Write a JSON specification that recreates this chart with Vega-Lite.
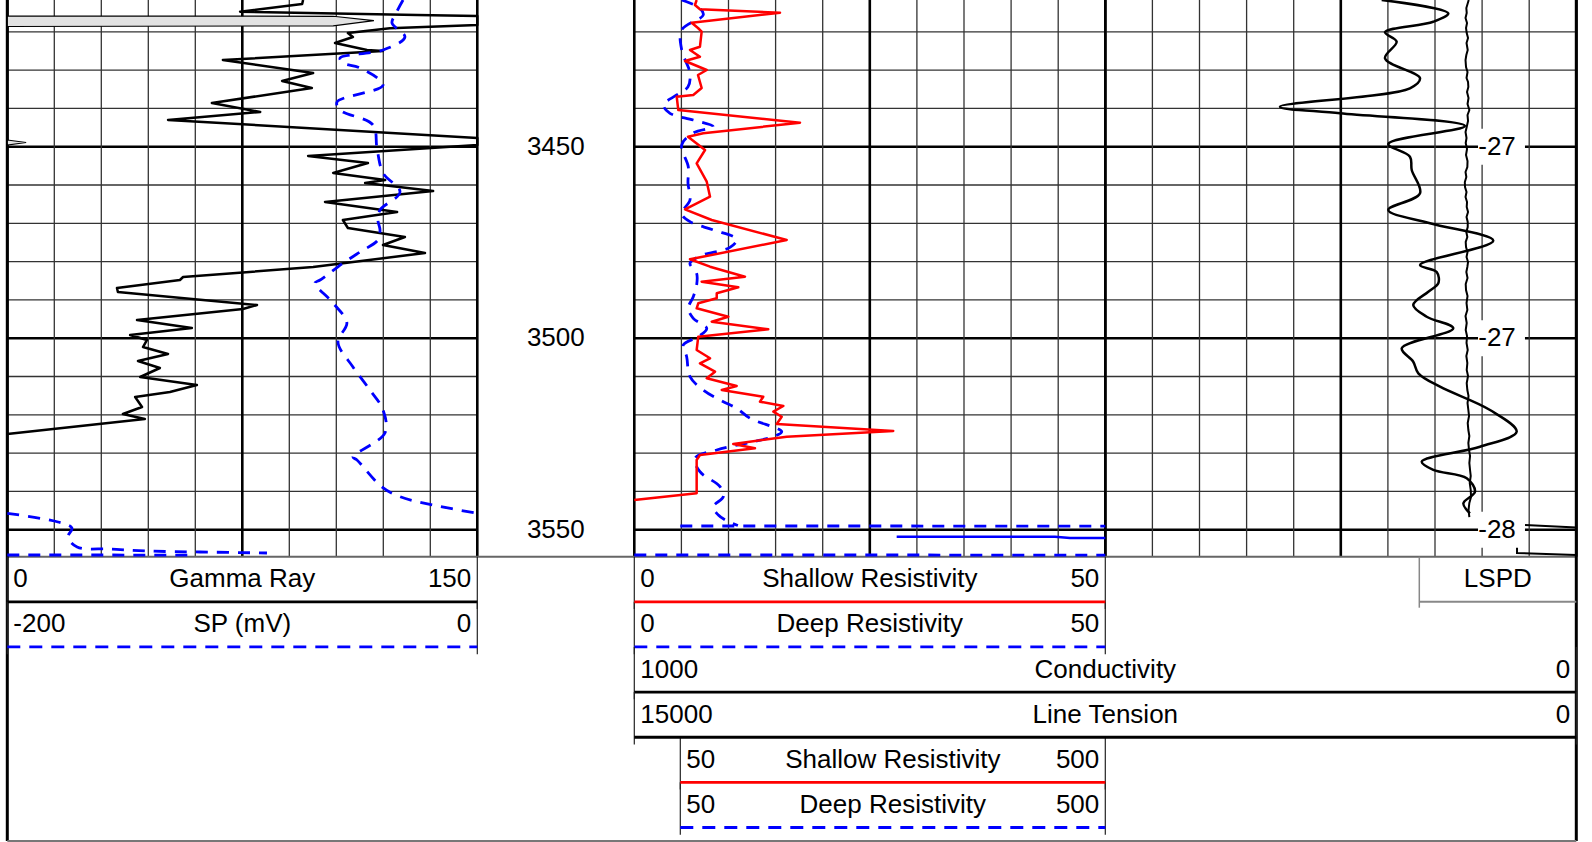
{
"$schema":"https://vega.github.io/schema/vega-lite/v6.json",
"width":1569,"height":841,
"padding":{"left":7.3,"top":0,"right":15.7,"bottom":1},
"autosize":{"type":"none"},
"background":"white",
"config":{"view":{"stroke":null},"text":{"font":"Liberation Sans","fontSize":26,"color":"black"}},
"datasets":{
"hgrid":[{"d":3420},{"d":3430},{"d":3440},{"d":3450},{"d":3460},{"d":3470},{"d":3480},{"d":3490},{"d":3500},{"d":3510},{"d":3520},{"d":3530},{"d":3540},{"d":3550}],
"vgrid":[{"div":0},{"div":1},{"div":2},{"div":3},{"div":4},{"div":5},{"div":6},{"div":7},{"div":8},{"div":9},{"div":10}],
"gr":[{"d":3411.70,"v":94.4},{"d":3412.74,"v":94.1},{"d":3414.75,"v":74.3},{"d":3415.62,"v":130.8},{"d":3415.88,"v":150},{"d":3418.23,"v":150},{"d":3419.09,"v":122.1},{"d":3420.32,"v":108.7},{"d":3421.36,"v":110.3},{"d":3422.93,"v":104.6},{"d":3424.75,"v":114.8},{"d":3425.02,"v":119.9},{"d":3427.37,"v":68.8},{"d":3430.76,"v":97.6},{"d":3432.85,"v":87.7},{"d":3434.68,"v":97.2},{"d":3438.59,"v":65.3},{"d":3440.94,"v":80.7},{"d":3443.03,"v":51.3},{"d":3447.73,"v":150},{"d":3449.56,"v":150},{"d":3452.43,"v":96.0},{"d":3454.26,"v":115.1},{"d":3456.87,"v":104.0},{"d":3458.70,"v":120.6},{"d":3459.48,"v":114.2},{"d":3461.57,"v":135.9},{"d":3464.44,"v":101.4},{"d":3467.05,"v":124.4},{"d":3469.14,"v":107.1},{"d":3471.23,"v":108.7},{"d":3473.58,"v":126.9},{"d":3475.67,"v":119.9},{"d":3477.76,"v":133.3},{"d":3481.41,"v":97.6},{"d":3484.02,"v":56.1},{"d":3484.81,"v":55.1},{"d":3486.90,"v":35.0},{"d":3487.94,"v":35.3},{"d":3491.33,"v":79.7},{"d":3492.38,"v":75.2},{"d":3495.25,"v":41.4},{"d":3497.34,"v":58.9},{"d":3499.17,"v":39.2},{"d":3500.47,"v":44.6},{"d":3502.30,"v":43.3},{"d":3504.13,"v":51.3},{"d":3505.96,"v":41.7},{"d":3507.78,"v":48.7},{"d":3510.13,"v":42.4},{"d":3512.22,"v":60.5},{"d":3514.05,"v":51.9},{"d":3515.35,"v":40.8},{"d":3517.96,"v":43.0},{"d":3519.79,"v":36.9},{"d":3521.10,"v":43.9},{"d":3525.01,"v":0}],
"grwrap":[{"d":3415.88,"v":0,"seg":"a"},{"d":3415.95,"v":104,"seg":"a"},{"d":3417.10,"v":117,"seg":"a"},{"d":3418.45,"v":104,"seg":"a"},{"d":3418.62,"v":0,"seg":"a"},{"d":3448.25,"v":0,"seg":"b"},{"d":3448.90,"v":6,"seg":"b"},{"d":3449.56,"v":0,"seg":"b"}],
"sp":[{"d":3411.70,"v":-31.6,"seg":"m"},{"d":3415.62,"v":-35.0,"seg":"m"},{"d":3417.71,"v":-36.3,"seg":"m"},{"d":3421.36,"v":-30.8,"seg":"m"},{"d":3424.75,"v":-40.1,"seg":"m"},{"d":3426.84,"v":-58.4,"seg":"m"},{"d":3428.15,"v":-57.1,"seg":"m"},{"d":3429.45,"v":-49.9,"seg":"m"},{"d":3433.89,"v":-40.1,"seg":"m"},{"d":3438.33,"v":-59.7,"seg":"m"},{"d":3440.42,"v":-58.4,"seg":"m"},{"d":3444.34,"v":-44.4,"seg":"m"},{"d":3450.34,"v":-42.7,"seg":"m"},{"d":3456.87,"v":-40.1,"seg":"m"},{"d":3461.83,"v":-32.9,"seg":"m"},{"d":3466.53,"v":-41.4,"seg":"m"},{"d":3469.14,"v":-42.3,"seg":"m"},{"d":3471.75,"v":-41.4,"seg":"m"},{"d":3474.36,"v":-42.3,"seg":"m"},{"d":3477.49,"v":-49.9,"seg":"m"},{"d":3480.37,"v":-57.1,"seg":"m"},{"d":3484.81,"v":-66.9,"seg":"m"},{"d":3485.59,"v":-69.1,"seg":"m"},{"d":3490.81,"v":-61.4,"seg":"m"},{"d":3496.03,"v":-55.5,"seg":"m"},{"d":3500.99,"v":-59.3,"seg":"m"},{"d":3507.52,"v":-52.9,"seg":"m"},{"d":3513.53,"v":-45.7,"seg":"m"},{"d":3518.75,"v":-40.1,"seg":"m"},{"d":3524.75,"v":-39.3,"seg":"m"},{"d":3531.02,"v":-52.9,"seg":"m"},{"d":3531.80,"v":-51.2,"seg":"m"},{"d":3538.77,"v":-40.7,"seg":"m"},{"d":3541.38,"v":-32.9,"seg":"m"},{"d":3543.55,"v":-18.9,"seg":"m"},{"d":3545.72,"v":0,"seg":"m"},
{"d":3545.72,"v":-200,"seg":"w"},{"d":3547.99,"v":-178.4,"seg":"w"},{"d":3549.56,"v":-172.5,"seg":"w"},{"d":3551.91,"v":-174.2,"seg":"w"},{"d":3554.52,"v":-170.3,"seg":"w"},{"d":3555.04,"v":-156.3,"seg":"w"},{"d":3555.56,"v":-140.6,"seg":"w"},{"d":3555.82,"v":-118.0,"seg":"w"},{"d":3556.08,"v":-89.5,"seg":"w"},
{"d":3556.60,"v":-200,"seg":"b"},{"d":3556.62,"v":-122.3,"seg":"b"}],
"sres":[{"d":3411.70,"v":6.62},{"d":3413.01,"v":6.44},{"d":3414.13,"v":6.97},{"d":3415.02,"v":15.47},{"d":3417.63,"v":6.09},{"d":3419.01,"v":6.76},{"d":3419.98,"v":7.15},{"d":3423.89,"v":6.97},{"d":3424.75,"v":5.91},{"d":3426.50,"v":6.97},{"d":3427.63,"v":5.38},{"d":3429.98,"v":7.69},{"d":3431.28,"v":6.76},{"d":3434.68,"v":7.15},{"d":3436.50,"v":6.26},{"d":3436.95,"v":4.50},{"d":3440.42,"v":4.67},{"d":3443.74,"v":17.59},{"d":3446.50,"v":7.32},{"d":3447.39,"v":5.70},{"d":3450.86,"v":7.51},{"d":3454.34,"v":6.62},{"d":3459.14,"v":7.69},{"d":3463.06,"v":8.04},{"d":3466.35,"v":5.38},{"d":3469.14,"v":8.22},{"d":3474.36,"v":16.18},{"d":3479.40,"v":5.91},{"d":3481.33,"v":8.04},{"d":3483.94,"v":11.75},{"d":3485.25,"v":7.15},{"d":3486.71,"v":11.04},{"d":3488.28,"v":8.75},{"d":3489.58,"v":8.75},{"d":3490.89,"v":6.79},{"d":3492.19,"v":6.62},{"d":3494.39,"v":9.98},{"d":3495.69,"v":8.22},{"d":3497.68,"v":14.22},{"d":3499.61,"v":6.79},{"d":3503.08,"v":6.62},{"d":3505.25,"v":8.04},{"d":3506.56,"v":6.97},{"d":3508.75,"v":8.57},{"d":3510.47,"v":7.69},{"d":3512.48,"v":10.87},{"d":3513.53,"v":9.28},{"d":3515.28,"v":13.69},{"d":3516.58,"v":13.34},{"d":3517.70,"v":15.82},{"d":3519.19,"v":14.76},{"d":3520.50,"v":15.65},{"d":3522.40,"v":15.12},{"d":3524.23,"v":27.49},{"d":3525.72,"v":16.18},{"d":3527.62,"v":10.51},{"d":3528.75,"v":12.81},{"d":3530.50,"v":6.97},{"d":3531.80,"v":6.62},{"d":3540.50,"v":6.62},{"d":3542.25,"v":0}],
"dres":[{"d":3411.70,"v":5.03,"seg":"m"},{"d":3413.87,"v":6.97,"seg":"m"},{"d":3415.62,"v":7.32,"seg":"m"},{"d":3419.53,"v":5.03,"seg":"m"},{"d":3424.75,"v":5.03,"seg":"m"},{"d":3430.84,"v":5.91,"seg":"m"},{"d":3434.34,"v":5.70,"seg":"m"},{"d":3436.50,"v":4.50,"seg":"m"},{"d":3439.11,"v":3.08,"seg":"m"},{"d":3441.28,"v":3.79,"seg":"m"},{"d":3443.03,"v":6.26,"seg":"m"},{"d":3444.78,"v":8.39,"seg":"m"},{"d":3446.43,"v":6.26,"seg":"m"},{"d":3449.56,"v":5.03,"seg":"m"},{"d":3455.22,"v":5.73,"seg":"m"},{"d":3459.56,"v":5.70,"seg":"m"},{"d":3463.92,"v":5.91,"seg":"m"},{"d":3467.39,"v":5.03,"seg":"m"},{"d":3469.58,"v":5.91,"seg":"m"},{"d":3471.75,"v":8.39,"seg":"m"},{"d":3474.18,"v":10.87,"seg":"m"},{"d":3476.27,"v":10.16,"seg":"m"},{"d":3478.54,"v":6.97,"seg":"m"},{"d":3480.45,"v":5.91,"seg":"m"},{"d":3483.06,"v":6.62,"seg":"m"},{"d":3486.11,"v":6.62,"seg":"m"},{"d":3489.17,"v":6.26,"seg":"m"},{"d":3492.19,"v":5.73,"seg":"m"},{"d":3494.81,"v":6.26,"seg":"m"},{"d":3497.42,"v":7.69,"seg":"m"},{"d":3499.61,"v":6.79,"seg":"m"},{"d":3501.78,"v":5.20,"seg":"m"},{"d":3504.83,"v":5.56,"seg":"m"},{"d":3510.05,"v":5.91,"seg":"m"},{"d":3513.53,"v":7.32,"seg":"m"},{"d":3516.58,"v":9.45,"seg":"m"},{"d":3518.30,"v":10.87,"seg":"m"},{"d":3520.91,"v":12.28,"seg":"m"},{"d":3524.41,"v":15.65,"seg":"m"},{"d":3525.72,"v":14.76,"seg":"m"},{"d":3527.02,"v":12.63,"seg":"m"},{"d":3529.19,"v":8.75,"seg":"m"},{"d":3531.36,"v":6.44,"seg":"m"},{"d":3534.86,"v":6.97,"seg":"m"},{"d":3538.77,"v":9.10,"seg":"m"},{"d":3541.38,"v":9.45,"seg":"m"},{"d":3543.99,"v":8.39,"seg":"m"},{"d":3546.16,"v":8.92,"seg":"m"},{"d":3547.91,"v":9.98,"seg":"m"},{"d":3548.90,"v":11.0,"seg":"m"},
{"d":3556.60,"v":0,"seg":"b"},{"d":3556.62,"v":50,"seg":"b"}],
"resbdash":[{"d":3549.03,"v":50},{"d":3549.05,"v":500}],
"resbsolid":[{"d":3551.83,"v":279.1},{"d":3551.85,"v":446.7},{"d":3552.17,"v":462.6},{"d":3552.19,"v":500}],
"cond":[{"d":3411.70,"v":206.6},{"d":3415.17,"v":135.9},{"d":3417.37,"v":151.8},{"d":3420.13,"v":203.1},{"d":3422.59,"v":190.7},{"d":3426.92,"v":203.1},{"d":3432.14,"v":165.9},{"d":3434.75,"v":176.6},{"d":3439.56,"v":314.6},{"d":3441.28,"v":250.9},{"d":3444.60,"v":118.2},{"d":3449.30,"v":199.6},{"d":3452.61,"v":176.6},{"d":3456.09,"v":174.7},{"d":3462.17,"v":165.9},{"d":3466.53,"v":199.6},{"d":3470.00,"v":155.3},{"d":3474.54,"v":88.1},{"d":3480.89,"v":165.9},{"d":3482.72,"v":148.2},{"d":3485.67,"v":146.5},{"d":3487.86,"v":157.1},{"d":3491.33,"v":173.1},{"d":3494.39,"v":158.8},{"d":3497.42,"v":130.6},{"d":3502.64,"v":185.3},{"d":3506.14,"v":173.1},{"d":3509.17,"v":167.7},{"d":3512.66,"v":144.7},{"d":3518.75,"v":91.6},{"d":3524.41,"v":63.3},{"d":3528.33,"v":102.2},{"d":3532.25,"v":164.1},{"d":3534.41,"v":151.8},{"d":3536.58,"v":116.3},{"d":3540.08,"v":107.5},{"d":3543.11,"v":119.9},{"d":3545.72,"v":112.9}],
"lt":[{"d":3411.70,"v":1713,"seg":"m"},{"d":3412.74,"v":1732,"seg":"m"},{"d":3413.79,"v":1751,"seg":"m"},{"d":3415.09,"v":1745,"seg":"m"},{"d":3416.40,"v":1764,"seg":"m"},{"d":3417.71,"v":1740,"seg":"m"},{"d":3419.01,"v":1756,"seg":"m"},{"d":3420.32,"v":1745,"seg":"m"},{"d":3421.62,"v":1724,"seg":"m"},{"d":3422.93,"v":1748,"seg":"m"},{"d":3424.75,"v":1729,"seg":"m"},{"d":3426.06,"v":1751,"seg":"m"},{"d":3427.37,"v":1764,"seg":"m"},{"d":3429.19,"v":1756,"seg":"m"},{"d":3430.50,"v":1732,"seg":"m"},{"d":3432.07,"v":1748,"seg":"m"},{"d":3433.11,"v":1724,"seg":"m"},{"d":3434.41,"v":1719,"seg":"m"},{"d":3435.72,"v":1740,"seg":"m"},{"d":3437.29,"v":1716,"seg":"m"},{"d":3438.85,"v":1732,"seg":"m"},{"d":3440.42,"v":1703,"seg":"m"},{"d":3441.73,"v":1732,"seg":"m"},{"d":3443.29,"v":1724,"seg":"m"},{"d":3444.86,"v":1745,"seg":"m"},{"d":3446.16,"v":1764,"seg":"m"},{"d":3447.73,"v":1748,"seg":"m"},{"d":3449.04,"v":1761,"seg":"m"},{"d":3450.60,"v":1740,"seg":"m"},{"d":3452.17,"v":1756,"seg":"m"},{"d":3453.74,"v":1732,"seg":"m"},{"d":3455.30,"v":1735,"seg":"m"},{"d":3456.61,"v":1764,"seg":"m"},{"d":3457.91,"v":1751,"seg":"m"},{"d":3459.22,"v":1775,"seg":"m"},{"d":3460.52,"v":1772,"seg":"m"},{"d":3461.83,"v":1748,"seg":"m"},{"d":3463.13,"v":1764,"seg":"m"},{"d":3464.44,"v":1740,"seg":"m"},{"d":3465.75,"v":1745,"seg":"m"},{"d":3467.05,"v":1724,"seg":"m"},{"d":3468.36,"v":1748,"seg":"m"},{"d":3469.66,"v":1729,"seg":"m"},{"d":3470.97,"v":1729,"seg":"m"},{"d":3472.27,"v":1751,"seg":"m"},{"d":3473.58,"v":1735,"seg":"m"},{"d":3474.88,"v":1761,"seg":"m"},{"d":3476.19,"v":1756,"seg":"m"},{"d":3477.49,"v":1732,"seg":"m"},{"d":3478.80,"v":1748,"seg":"m"},{"d":3480.11,"v":1724,"seg":"m"},{"d":3481.41,"v":1735,"seg":"m"},{"d":3482.72,"v":1751,"seg":"m"},{"d":3484.28,"v":1732,"seg":"m"},{"d":3485.85,"v":1761,"seg":"m"},{"d":3487.42,"v":1756,"seg":"m"},{"d":3488.98,"v":1732,"seg":"m"},{"d":3490.81,"v":1748,"seg":"m"},{"d":3492.64,"v":1735,"seg":"m"},{"d":3494.20,"v":1764,"seg":"m"},{"d":3496.03,"v":1745,"seg":"m"},{"d":3497.86,"v":1761,"seg":"m"},{"d":3499.43,"v":1740,"seg":"m"},{"d":3501.25,"v":1748,"seg":"m"},{"d":3503.08,"v":1729,"seg":"m"},{"d":3504.65,"v":1751,"seg":"m"},{"d":3506.48,"v":1735,"seg":"m"},{"d":3508.30,"v":1745,"seg":"m"},{"d":3509.87,"v":1724,"seg":"m"},{"d":3511.70,"v":1745,"seg":"m"},{"d":3513.53,"v":1735,"seg":"m"},{"d":3515.09,"v":1716,"seg":"m"},{"d":3516.92,"v":1732,"seg":"m"},{"d":3518.75,"v":1719,"seg":"m"},{"d":3520.31,"v":1708,"seg":"m"},{"d":3522.14,"v":1729,"seg":"m"},{"d":3523.97,"v":1719,"seg":"m"},{"d":3525.54,"v":1703,"seg":"m"},{"d":3527.36,"v":1719,"seg":"m"},{"d":3529.19,"v":1708,"seg":"m"},{"d":3530.76,"v":1692,"seg":"m"},{"d":3532.59,"v":1703,"seg":"m"},{"d":3534.41,"v":1692,"seg":"m"},{"d":3535.98,"v":1681,"seg":"m"},{"d":3537.81,"v":1697,"seg":"m"},{"d":3539.63,"v":1681,"seg":"m"},{"d":3541.46,"v":1676,"seg":"m"},{"d":3543.03,"v":1703,"seg":"m"},{"d":3544.86,"v":1716,"seg":"m"},{"d":3546.70,"v":1703,"seg":"m"},
{"d":3548.77,"v":817,"seg":"b"},{"d":3549.43,"v":0,"seg":"b"},
{"d":3553.99,"v":944,"seg":"c"},{"d":3556.08,"v":944,"seg":"c"},{"d":3556.60,"v":0,"seg":"c"}],
"depthlab":[{"d":3450},{"d":3500},{"d":3550}],
"lspd":[{"d":3450,"lspd":-27},{"d":3500,"lspd":-27},{"d":3550,"lspd":-28}],
"header":[
{"scale":"GR","curve":"Gamma Ray","row":0,"lo":0,"hi":150},
{"scale":"SP","curve":"SP (mV)","row":1,"lo":-200,"hi":0},
{"scale":"RES","curve":"Shallow Resistivity","row":0,"lo":0,"hi":50},
{"scale":"RES","curve":"Deep Resistivity","row":1,"lo":0,"hi":50},
{"scale":"COND","curve":"Conductivity","row":2,"lo":1000,"hi":0},
{"scale":"LT","curve":"Line Tension","row":3,"lo":15000,"hi":0},
{"scale":"RESB","curve":"Shallow Resistivity","row":4,"lo":50,"hi":500},
{"scale":"RESB","curve":"Deep Resistivity","row":5,"lo":50,"hi":500},
{"scale":"LSPD","curve":"LSPD","row":0,"lo":0,"hi":1}]
},
"resolve":{"scale":{"x":"independent","y":"independent"}},
"layer":[
{"encoding":{"x":{"field":"gx","type":"quantitative","scale":{"domain":[0,10],"range":[0,470],"nice":false,"zero":false},"axis":null},"y":{"field":"gy","type":"quantitative","scale":{"domain":[3411.7,3557.05],"range":[0,556.7],"nice":false,"zero":false},"axis":null}},
 "layer":[
  {"data":{"name":"hgrid"},"transform":[{"calculate":"0","as":"gx"},{"calculate":"10","as":"gx2"},{"calculate":"datum.d","as":"gy"}],"mark":{"type":"rule"},"encoding":{"x2":{"field":"gx2"},"color":{"condition":{"test":"datum.d % 50 === 0","value":"#000000"},"value":"#333333"},"strokeWidth":{"condition":{"test":"datum.d % 50 === 0","value":2.6},"value":1.3}}},
  {"data":{"name":"vgrid"},"transform":[{"calculate":"datum.div","as":"gx"},{"calculate":"3411.7","as":"gy"},{"calculate":"3557.05","as":"gy2"}],"mark":{"type":"rule"},"encoding":{"y2":{"field":"gy2"},"color":{"condition":{"test":"datum.div % 5 === 0","value":"#000000"},"value":"#333333"},"strokeWidth":{"condition":{"test":"datum.div % 5 === 0","value":2.6},"value":1.3}}}
 ]},
{"encoding":{"x":{"field":"gx","type":"quantitative","scale":{"domain":[0,10],"range":[627,1098],"nice":false,"zero":false},"axis":null},"y":{"field":"gy","type":"quantitative","scale":{"domain":[3411.7,3557.05],"range":[0,556.7],"nice":false,"zero":false},"axis":null}},
 "layer":[
  {"data":{"name":"hgrid"},"transform":[{"calculate":"0","as":"gx"},{"calculate":"10","as":"gx2"},{"calculate":"datum.d","as":"gy"}],"mark":{"type":"rule"},"encoding":{"x2":{"field":"gx2"},"color":{"condition":{"test":"datum.d % 50 === 0","value":"#000000"},"value":"#333333"},"strokeWidth":{"condition":{"test":"datum.d % 50 === 0","value":2.6},"value":1.3}}},
  {"data":{"name":"vgrid"},"transform":[{"calculate":"datum.div","as":"gx"},{"calculate":"3411.7","as":"gy"},{"calculate":"3557.05","as":"gy2"}],"mark":{"type":"rule"},"encoding":{"y2":{"field":"gy2"},"color":{"condition":{"test":"datum.div % 5 === 0","value":"#000000"},"value":"#333333"},"strokeWidth":{"condition":{"test":"datum.div % 5 === 0","value":2.6},"value":1.3}}}
 ]},
{"encoding":{"x":{"field":"gx","type":"quantitative","scale":{"domain":[0,10],"range":[1098,1569],"nice":false,"zero":false},"axis":null},"y":{"field":"gy","type":"quantitative","scale":{"domain":[3411.7,3557.05],"range":[0,556.7],"nice":false,"zero":false},"axis":null}},
 "layer":[
  {"data":{"name":"hgrid"},"transform":[{"calculate":"0","as":"gx"},{"calculate":"10","as":"gx2"},{"calculate":"datum.d","as":"gy"}],"mark":{"type":"rule"},"encoding":{"x2":{"field":"gx2"},"color":{"condition":{"test":"datum.d % 50 === 0","value":"#000000"},"value":"#333333"},"strokeWidth":{"condition":{"test":"datum.d % 50 === 0","value":2.6},"value":1.3}}},
  {"data":{"name":"vgrid"},"transform":[{"calculate":"datum.div","as":"gx"},{"calculate":"3411.7","as":"gy"},{"calculate":"3557.05","as":"gy2"}],"mark":{"type":"rule"},"encoding":{"y2":{"field":"gy2"},"color":{"condition":{"test":"datum.div % 5 === 0","value":"#000000"},"value":"#333333"},"strokeWidth":{"condition":{"test":"datum.div % 5 === 0","value":2.6},"value":1.3}}}
 ]},
{"data":{"values":[{"d":3557.05}]},"mark":{"type":"rule","color":"#666666","strokeWidth":2},"encoding":{"x":{"value":0},"x2":{"value":"width"},"y":{"field":"d","type":"quantitative","scale":{"domain":[3411.7,3557.05],"range":[0,556.7],"nice":false,"zero":false},"axis":null}}},
{"data":{"values":[{}]},"mark":{"type":"rule","color":"#000000","strokeWidth":3},"encoding":{"x":{"value":0},"y":{"value":0},"y2":{"value":"height"}}},
{"data":{"values":[{}]},"mark":{"type":"rule","color":"#000000","strokeWidth":3},"encoding":{"x":{"value":"width"},"y":{"value":0},"y2":{"value":"height"}}},
{"data":{"values":[{}]},"mark":{"type":"rule","color":"#777777","strokeWidth":2},"encoding":{"x":{"value":0},"x2":{"value":"width"},"y":{"value":"height"}}},
{"encoding":{"x":{"field":"v","type":"quantitative","scale":{"domain":[0,150],"range":[0,470],"nice":false,"zero":false},"axis":null,"stack":null},"y":{"field":"d","type":"quantitative","scale":{"domain":[3411.7,3557.05],"range":[0,556.7],"nice":false,"zero":false},"axis":null}},
 "layer":[
  {"data":{"name":"grwrap"},"mark":{"type":"area","orient":"horizontal","fill":"#e2e2e2","stroke":"#000000","strokeWidth":1.2},"encoding":{"detail":{"field":"seg","type":"nominal"}}},
  {"data":{"name":"gr"},"mark":{"type":"line","color":"#000000","strokeWidth":2.5,"strokeJoin":"round"},"encoding":{"order":{"field":"d","type":"quantitative"}}}
 ]},
{"data":{"name":"sp"},"mark":{"type":"line","color":"#0000ff","strokeWidth":2.8,"strokeDash":[12,9],"interpolate":"catmull-rom"},"encoding":{"x":{"field":"v","type":"quantitative","scale":{"domain":[-200,0],"range":[0,470],"nice":false,"zero":false},"axis":null},"y":{"field":"d","type":"quantitative","scale":{"domain":[3411.7,3557.05],"range":[0,556.7],"nice":false,"zero":false},"axis":null},"detail":{"field":"seg","type":"nominal"},"order":{"field":"d","type":"quantitative"}}},
{"encoding":{"x":{"field":"v","type":"quantitative","scale":{"domain":[0,50],"range":[627,1098],"nice":false,"zero":false},"axis":null},"y":{"field":"d","type":"quantitative","scale":{"domain":[3411.7,3557.05],"range":[0,556.7],"nice":false,"zero":false},"axis":null},"order":{"field":"d","type":"quantitative"}},
 "layer":[
  {"data":{"name":"dres"},"mark":{"type":"line","color":"#0000ff","strokeWidth":2.8,"strokeDash":[12,9],"interpolate":"catmull-rom"},"encoding":{"detail":{"field":"seg","type":"nominal"}}},
  {"data":{"name":"sres"},"mark":{"type":"line","color":"#ff0000","strokeWidth":2.5,"strokeJoin":"round"}}
 ]},
{"encoding":{"x":{"field":"v","type":"quantitative","scale":{"domain":[50,500],"range":[673,1098],"nice":false,"zero":false},"axis":null},"y":{"field":"d","type":"quantitative","scale":{"domain":[3411.7,3557.05],"range":[0,556.7],"nice":false,"zero":false},"axis":null},"order":{"field":"d","type":"quantitative"}},
 "layer":[
  {"data":{"name":"resbdash"},"mark":{"type":"line","color":"#0000ff","strokeWidth":2.8,"strokeDash":[12,9]}},
  {"data":{"name":"resbsolid"},"mark":{"type":"line","color":"#0000ff","strokeWidth":2.5}}
 ]},
{"data":{"name":"cond"},"mark":{"type":"line","color":"#000000","strokeWidth":2.5,"interpolate":"catmull-rom"},"encoding":{"x":{"field":"v","type":"quantitative","scale":{"domain":[0,1000],"range":[1569,627],"nice":false,"zero":false},"axis":null},"y":{"field":"d","type":"quantitative","scale":{"domain":[3411.7,3557.05],"range":[0,556.7],"nice":false,"zero":false},"axis":null},"order":{"field":"d","type":"quantitative"}}},
{"data":{"name":"lt"},"mark":{"type":"line","color":"#000000","strokeWidth":2},"encoding":{"x":{"field":"v","type":"quantitative","scale":{"domain":[0,15000],"range":[1569,627],"nice":false,"zero":false},"axis":null},"y":{"field":"d","type":"quantitative","scale":{"domain":[3411.7,3557.05],"range":[0,556.7],"nice":false,"zero":false},"axis":null},"detail":{"field":"seg","type":"nominal"},"order":{"field":"d","type":"quantitative"}}},
{"data":{"name":"depthlab"},"transform":[{"calculate":"0.5","as":"c"}],"mark":{"type":"text","align":"center","baseline":"middle"},"encoding":{"x":{"field":"c","type":"quantitative","scale":{"domain":[0,1],"range":[470,627],"nice":false,"zero":false},"axis":null},"y":{"field":"d","type":"quantitative","scale":{"domain":[3411.7,3557.05],"range":[0,556.7],"nice":false,"zero":false},"axis":null},"text":{"field":"d","type":"nominal"}}},
{"data":{"name":"lspd"},
 "encoding":{"x":{"field":"c","type":"quantitative","scale":{"domain":[0,1],"range":[1412,1569],"nice":false,"zero":false},"axis":null},"y":{"field":"d","type":"quantitative","scale":{"domain":[3411.7,3557.05],"range":[0,556.7],"nice":false,"zero":false},"axis":null}},
 "layer":[
  {"transform":[{"calculate":"0.374","as":"c"},{"calculate":"0.673","as":"c2"}],"mark":{"type":"rule","color":"#ffffff","strokeWidth":36},"encoding":{"x2":{"field":"c2"}}},
  {"transform":[{"calculate":"0.495","as":"c"}],"mark":{"type":"text","align":"center","baseline":"middle"},"encoding":{"text":{"field":"lspd","type":"nominal"}}}
 ]},
{"data":{"name":"header"},"transform":[{"filter":"datum.scale === 'GR'"}],
 "encoding":{"x":{"field":"xx","type":"quantitative","scale":{"domain":[0,150],"range":[0,470],"nice":false,"zero":false},"axis":null},"y":{"field":"yy","type":"quantitative","scale":{"domain":[0,6],"range":[556.7,827.5],"nice":false,"zero":false},"axis":null}},
 "layer":[
  {"transform":[{"fold":["lo","hi"],"as":["k","xx"]},{"calculate":"datum.row","as":"yy"},{"calculate":"datum.row + 1.16","as":"yy2"}],"mark":{"type":"rule","color":"#222222","strokeWidth":1.2},"encoding":{"y2":{"field":"yy2"}}},
  {"transform":[{"calculate":"datum.lo","as":"xx"},{"calculate":"datum.row + 1","as":"yy"}],"mark":{"type":"rule","strokeWidth":2.8},"encoding":{"x2":{"field":"hi"},"color":{"field":"curve","type":"nominal","scale":{"domain":["Gamma Ray","SP (mV)","Shallow Resistivity","Deep Resistivity","Conductivity","Line Tension"],"range":["#000000","#0000ff","#ff0000","#0000ff","#000000","#000000"]},"legend":null},"strokeDash":{"field":"curve","type":"nominal","scale":{"domain":["Gamma Ray","SP (mV)","Shallow Resistivity","Deep Resistivity","Conductivity","Line Tension"],"range":[[1,0],[13,9],[1,0],[13,9],[1,0],[1,0]]},"legend":null}}},
  {"transform":[{"calculate":"datum.lo","as":"xx"},{"calculate":"datum.row + 0.5","as":"yy"}],"mark":{"type":"text","align":"left","baseline":"middle","dx":6},"encoding":{"text":{"field":"lo","type":"nominal"}}},
  {"transform":[{"calculate":"(datum.lo + datum.hi) / 2","as":"xx"},{"calculate":"datum.row + 0.5","as":"yy"}],"mark":{"type":"text","align":"center","baseline":"middle"},"encoding":{"text":{"field":"curve","type":"nominal"}}},
  {"transform":[{"calculate":"datum.hi","as":"xx"},{"calculate":"datum.row + 0.5","as":"yy"}],"mark":{"type":"text","align":"right","baseline":"middle","dx":-6},"encoding":{"text":{"field":"hi","type":"nominal"}}}
 ]},
{"data":{"name":"header"},"transform":[{"filter":"datum.scale === 'SP'"}],
 "encoding":{"x":{"field":"xx","type":"quantitative","scale":{"domain":[-200,0],"range":[0,470],"nice":false,"zero":false},"axis":null},"y":{"field":"yy","type":"quantitative","scale":{"domain":[0,6],"range":[556.7,827.5],"nice":false,"zero":false},"axis":null}},
 "layer":[
  {"transform":[{"fold":["lo","hi"],"as":["k","xx"]},{"calculate":"datum.row","as":"yy"},{"calculate":"datum.row + 1.16","as":"yy2"}],"mark":{"type":"rule","color":"#222222","strokeWidth":1.2},"encoding":{"y2":{"field":"yy2"}}},
  {"transform":[{"calculate":"datum.lo","as":"xx"},{"calculate":"datum.row + 1","as":"yy"}],"mark":{"type":"rule","strokeWidth":2.8},"encoding":{"x2":{"field":"hi"},"color":{"field":"curve","type":"nominal","scale":{"domain":["Gamma Ray","SP (mV)","Shallow Resistivity","Deep Resistivity","Conductivity","Line Tension"],"range":["#000000","#0000ff","#ff0000","#0000ff","#000000","#000000"]},"legend":null},"strokeDash":{"field":"curve","type":"nominal","scale":{"domain":["Gamma Ray","SP (mV)","Shallow Resistivity","Deep Resistivity","Conductivity","Line Tension"],"range":[[1,0],[13,9],[1,0],[13,9],[1,0],[1,0]]},"legend":null}}},
  {"transform":[{"calculate":"datum.lo","as":"xx"},{"calculate":"datum.row + 0.5","as":"yy"}],"mark":{"type":"text","align":"left","baseline":"middle","dx":6},"encoding":{"text":{"field":"lo","type":"nominal"}}},
  {"transform":[{"calculate":"(datum.lo + datum.hi) / 2","as":"xx"},{"calculate":"datum.row + 0.5","as":"yy"}],"mark":{"type":"text","align":"center","baseline":"middle"},"encoding":{"text":{"field":"curve","type":"nominal"}}},
  {"transform":[{"calculate":"datum.hi","as":"xx"},{"calculate":"datum.row + 0.5","as":"yy"}],"mark":{"type":"text","align":"right","baseline":"middle","dx":-6},"encoding":{"text":{"field":"hi","type":"nominal"}}}
 ]},
{"data":{"name":"header"},"transform":[{"filter":"datum.scale === 'RES'"}],
 "encoding":{"x":{"field":"xx","type":"quantitative","scale":{"domain":[0,50],"range":[627,1098],"nice":false,"zero":false},"axis":null},"y":{"field":"yy","type":"quantitative","scale":{"domain":[0,6],"range":[556.7,827.5],"nice":false,"zero":false},"axis":null}},
 "layer":[
  {"transform":[{"fold":["lo","hi"],"as":["k","xx"]},{"calculate":"datum.row","as":"yy"},{"calculate":"datum.row + 1.16","as":"yy2"}],"mark":{"type":"rule","color":"#222222","strokeWidth":1.2},"encoding":{"y2":{"field":"yy2"}}},
  {"transform":[{"calculate":"datum.lo","as":"xx"},{"calculate":"datum.row + 1","as":"yy"}],"mark":{"type":"rule","strokeWidth":2.8},"encoding":{"x2":{"field":"hi"},"color":{"field":"curve","type":"nominal","scale":{"domain":["Gamma Ray","SP (mV)","Shallow Resistivity","Deep Resistivity","Conductivity","Line Tension"],"range":["#000000","#0000ff","#ff0000","#0000ff","#000000","#000000"]},"legend":null},"strokeDash":{"field":"curve","type":"nominal","scale":{"domain":["Gamma Ray","SP (mV)","Shallow Resistivity","Deep Resistivity","Conductivity","Line Tension"],"range":[[1,0],[13,9],[1,0],[13,9],[1,0],[1,0]]},"legend":null}}},
  {"transform":[{"calculate":"datum.lo","as":"xx"},{"calculate":"datum.row + 0.5","as":"yy"}],"mark":{"type":"text","align":"left","baseline":"middle","dx":6},"encoding":{"text":{"field":"lo","type":"nominal"}}},
  {"transform":[{"calculate":"(datum.lo + datum.hi) / 2","as":"xx"},{"calculate":"datum.row + 0.5","as":"yy"}],"mark":{"type":"text","align":"center","baseline":"middle"},"encoding":{"text":{"field":"curve","type":"nominal"}}},
  {"transform":[{"calculate":"datum.hi","as":"xx"},{"calculate":"datum.row + 0.5","as":"yy"}],"mark":{"type":"text","align":"right","baseline":"middle","dx":-6},"encoding":{"text":{"field":"hi","type":"nominal"}}}
 ]},
{"data":{"name":"header"},"transform":[{"filter":"datum.scale === 'RESB'"}],
 "encoding":{"x":{"field":"xx","type":"quantitative","scale":{"domain":[50,500],"range":[673,1098],"nice":false,"zero":false},"axis":null},"y":{"field":"yy","type":"quantitative","scale":{"domain":[0,6],"range":[556.7,827.5],"nice":false,"zero":false},"axis":null}},
 "layer":[
  {"transform":[{"fold":["lo","hi"],"as":["k","xx"]},{"calculate":"datum.row","as":"yy"},{"calculate":"datum.row + 1.16","as":"yy2"}],"mark":{"type":"rule","color":"#222222","strokeWidth":1.2},"encoding":{"y2":{"field":"yy2"}}},
  {"transform":[{"calculate":"datum.lo","as":"xx"},{"calculate":"datum.row + 1","as":"yy"}],"mark":{"type":"rule","strokeWidth":2.8},"encoding":{"x2":{"field":"hi"},"color":{"field":"curve","type":"nominal","scale":{"domain":["Gamma Ray","SP (mV)","Shallow Resistivity","Deep Resistivity","Conductivity","Line Tension"],"range":["#000000","#0000ff","#ff0000","#0000ff","#000000","#000000"]},"legend":null},"strokeDash":{"field":"curve","type":"nominal","scale":{"domain":["Gamma Ray","SP (mV)","Shallow Resistivity","Deep Resistivity","Conductivity","Line Tension"],"range":[[1,0],[13,9],[1,0],[13,9],[1,0],[1,0]]},"legend":null}}},
  {"transform":[{"calculate":"datum.lo","as":"xx"},{"calculate":"datum.row + 0.5","as":"yy"}],"mark":{"type":"text","align":"left","baseline":"middle","dx":6},"encoding":{"text":{"field":"lo","type":"nominal"}}},
  {"transform":[{"calculate":"(datum.lo + datum.hi) / 2","as":"xx"},{"calculate":"datum.row + 0.5","as":"yy"}],"mark":{"type":"text","align":"center","baseline":"middle"},"encoding":{"text":{"field":"curve","type":"nominal"}}},
  {"transform":[{"calculate":"datum.hi","as":"xx"},{"calculate":"datum.row + 0.5","as":"yy"}],"mark":{"type":"text","align":"right","baseline":"middle","dx":-6},"encoding":{"text":{"field":"hi","type":"nominal"}}}
 ]},
{"data":{"name":"header"},"transform":[{"filter":"datum.scale === 'COND'"}],
 "encoding":{"x":{"field":"xx","type":"quantitative","scale":{"domain":[0,1000],"range":[1569,627],"nice":false,"zero":false},"axis":null},"y":{"field":"yy","type":"quantitative","scale":{"domain":[0,6],"range":[556.7,827.5],"nice":false,"zero":false},"axis":null}},
 "layer":[
  {"transform":[{"fold":["lo","hi"],"as":["k","xx"]},{"calculate":"datum.row","as":"yy"},{"calculate":"datum.row + 1.16","as":"yy2"}],"mark":{"type":"rule","color":"#222222","strokeWidth":1.2},"encoding":{"y2":{"field":"yy2"}}},
  {"transform":[{"calculate":"datum.lo","as":"xx"},{"calculate":"datum.row + 1","as":"yy"}],"mark":{"type":"rule","strokeWidth":2.8},"encoding":{"x2":{"field":"hi"},"color":{"field":"curve","type":"nominal","scale":{"domain":["Gamma Ray","SP (mV)","Shallow Resistivity","Deep Resistivity","Conductivity","Line Tension"],"range":["#000000","#0000ff","#ff0000","#0000ff","#000000","#000000"]},"legend":null},"strokeDash":{"field":"curve","type":"nominal","scale":{"domain":["Gamma Ray","SP (mV)","Shallow Resistivity","Deep Resistivity","Conductivity","Line Tension"],"range":[[1,0],[13,9],[1,0],[13,9],[1,0],[1,0]]},"legend":null}}},
  {"transform":[{"calculate":"datum.lo","as":"xx"},{"calculate":"datum.row + 0.5","as":"yy"}],"mark":{"type":"text","align":"left","baseline":"middle","dx":6},"encoding":{"text":{"field":"lo","type":"nominal"}}},
  {"transform":[{"calculate":"(datum.lo + datum.hi) / 2","as":"xx"},{"calculate":"datum.row + 0.5","as":"yy"}],"mark":{"type":"text","align":"center","baseline":"middle"},"encoding":{"text":{"field":"curve","type":"nominal"}}},
  {"transform":[{"calculate":"datum.hi","as":"xx"},{"calculate":"datum.row + 0.5","as":"yy"}],"mark":{"type":"text","align":"right","baseline":"middle","dx":-6},"encoding":{"text":{"field":"hi","type":"nominal"}}}
 ]},
{"data":{"name":"header"},"transform":[{"filter":"datum.scale === 'LT'"}],
 "encoding":{"x":{"field":"xx","type":"quantitative","scale":{"domain":[0,15000],"range":[1569,627],"nice":false,"zero":false},"axis":null},"y":{"field":"yy","type":"quantitative","scale":{"domain":[0,6],"range":[556.7,827.5],"nice":false,"zero":false},"axis":null}},
 "layer":[
  {"transform":[{"fold":["lo","hi"],"as":["k","xx"]},{"calculate":"datum.row","as":"yy"},{"calculate":"datum.row + 1.16","as":"yy2"}],"mark":{"type":"rule","color":"#222222","strokeWidth":1.2},"encoding":{"y2":{"field":"yy2"}}},
  {"transform":[{"calculate":"datum.lo","as":"xx"},{"calculate":"datum.row + 1","as":"yy"}],"mark":{"type":"rule","strokeWidth":2.8},"encoding":{"x2":{"field":"hi"},"color":{"field":"curve","type":"nominal","scale":{"domain":["Gamma Ray","SP (mV)","Shallow Resistivity","Deep Resistivity","Conductivity","Line Tension"],"range":["#000000","#0000ff","#ff0000","#0000ff","#000000","#000000"]},"legend":null},"strokeDash":{"field":"curve","type":"nominal","scale":{"domain":["Gamma Ray","SP (mV)","Shallow Resistivity","Deep Resistivity","Conductivity","Line Tension"],"range":[[1,0],[13,9],[1,0],[13,9],[1,0],[1,0]]},"legend":null}}},
  {"transform":[{"calculate":"datum.lo","as":"xx"},{"calculate":"datum.row + 0.5","as":"yy"}],"mark":{"type":"text","align":"left","baseline":"middle","dx":6},"encoding":{"text":{"field":"lo","type":"nominal"}}},
  {"transform":[{"calculate":"(datum.lo + datum.hi) / 2","as":"xx"},{"calculate":"datum.row + 0.5","as":"yy"}],"mark":{"type":"text","align":"center","baseline":"middle"},"encoding":{"text":{"field":"curve","type":"nominal"}}},
  {"transform":[{"calculate":"datum.hi","as":"xx"},{"calculate":"datum.row + 0.5","as":"yy"}],"mark":{"type":"text","align":"right","baseline":"middle","dx":-6},"encoding":{"text":{"field":"hi","type":"nominal"}}}
 ]},
{"data":{"name":"header"},"transform":[{"filter":"datum.scale === 'LSPD'"}],
 "encoding":{"x":{"field":"xx","type":"quantitative","scale":{"domain":[0,1],"range":[1412,1569],"nice":false,"zero":false},"axis":null},"y":{"field":"yy","type":"quantitative","scale":{"domain":[0,6],"range":[556.7,827.5],"nice":false,"zero":false},"axis":null}},
 "layer":[
  {"transform":[{"calculate":"datum.lo","as":"xx"},{"calculate":"datum.row","as":"yy"},{"calculate":"datum.row + 1.13","as":"yy2"}],"mark":{"type":"rule","color":"#888888","strokeWidth":1.5},"encoding":{"y2":{"field":"yy2"}}},
  {"transform":[{"calculate":"datum.lo","as":"xx"},{"calculate":"datum.row + 1","as":"yy"}],"mark":{"type":"rule","color":"#888888","strokeWidth":2},"encoding":{"x2":{"field":"hi"}}},
  {"transform":[{"calculate":"(datum.lo + datum.hi) / 2","as":"xx"},{"calculate":"datum.row + 0.5","as":"yy"}],"mark":{"type":"text","align":"center","baseline":"middle"},"encoding":{"text":{"field":"curve","type":"nominal"}}}
 ]}
]
}
